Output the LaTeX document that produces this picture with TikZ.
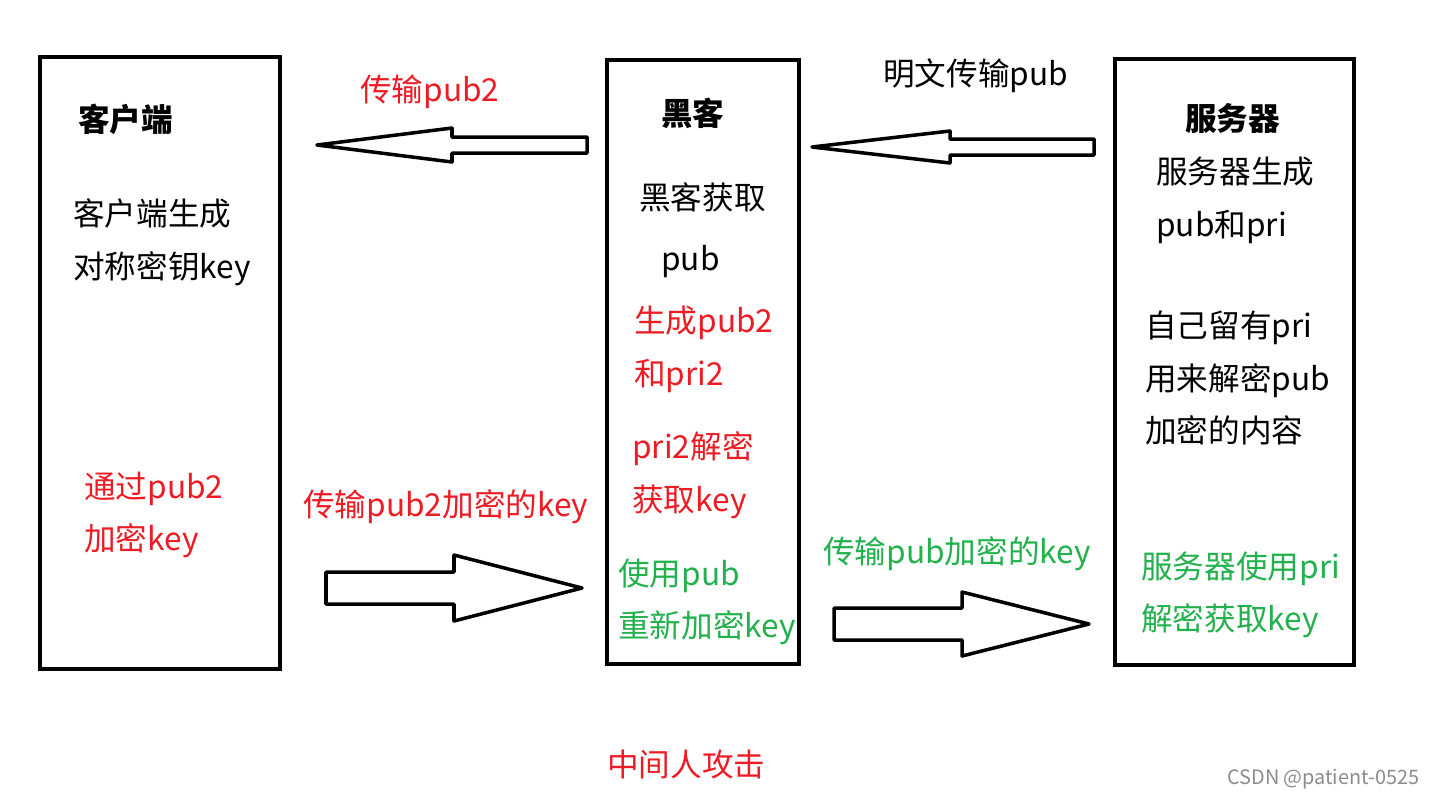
\documentclass[tikz,border=0pt]{standalone}
\usepackage{fontspec}
\setmainfont{Noto Sans CJK SC}
\usetikzlibrary{positioning}
\definecolor{pred}{RGB}{237,28,36}
\definecolor{pgreen}{RGB}{34,177,76}
\newcommand{\bigarrow}[6]{\draw[arrowline] (#1,#4-#5) -- (#2,#4-#5) -- (#2,#4-#6) -- (#3,#4) -- (#2,#4+#6) -- (#2,#4+#5) -- (#1,#4+#5) -- cycle;}

\begin{document}
\begin{tikzpicture}[x=0.02cm,y=-0.02cm,
every node/.style={inner sep=0pt,anchor=west,align=left,font=\fontsize{18}{30}\selectfont},
box/.style={draw=black,line width=2.6pt},
arrowline/.style={draw=black,line width=2pt,line join=round},
title/.style={font=\fontsize{18}{30}\selectfont\bfseries},
redtxt/.style={text=pred},
greentxt/.style={text=pgreen}]
\useasboundingbox[fill=white] (0,0) rectangle (1436,799);
\draw[box] (40,57) rectangle (280,669);
\draw[box] (607,60) rectangle (799,664);
\draw[box] (1115,59) rectangle (1354,665);
\node[title] (client) at (78,119) {客户端};
\node (clientgen) at (73,242) {客户端生成\\对称密钥key};
\node[redtxt] (clientenc) at (84,515) {通过pub2\\加密key};
\node[title] (hacker) at (661,113) {黑客};
\node (hackerget) at (639,197) {黑客获取};
\node (hackerpub) at (661,262) {pub};
\node[redtxt] (hackergen) at (634,349) {生成pub2\\和pri2};
\node[redtxt] (hackerdec) at (632,475) {pri2解密\\获取key};
\node[greentxt] (hackerenc) at (618,602) {使用pub\\重新加密key};
\node[title] (server) at (1185,118) {服务器};
\node (servergen) at (1156,200) {服务器生成\\pub和pri};
\node (serverkeep) at (1145,378) {自己留有pri\\用来解密pub\\加密的内容};
\node[greentxt] (serverdec) at (1141,595) {服务器使用pri\\解密获取key};
\node[redtxt] (send1) at (360,92) {传输pub2};
\node (send2) at (883,76) {明文传输pub};
\node[redtxt] (send3) at (303,507) {传输pub2加密的key};
\node[greentxt] (send4) at (823,554) {传输pub加密的key};
\node[redtxt] (caption) at (607,764) {中间人攻击};
\node[text=black!45,font=\fontsize{11.3}{13}\selectfont] (mark) at (1227,779) {CSDN @patient-0525};
\bigarrow{587}{452}{317}{145}{8}{17}
\bigarrow{1094}{950}{812}{147}{8}{16}
\bigarrow{326}{454}{582}{588}{16}{33}
\bigarrow{834}{962}{1089}{624}{16}{32}
\end{tikzpicture}
\end{document}
